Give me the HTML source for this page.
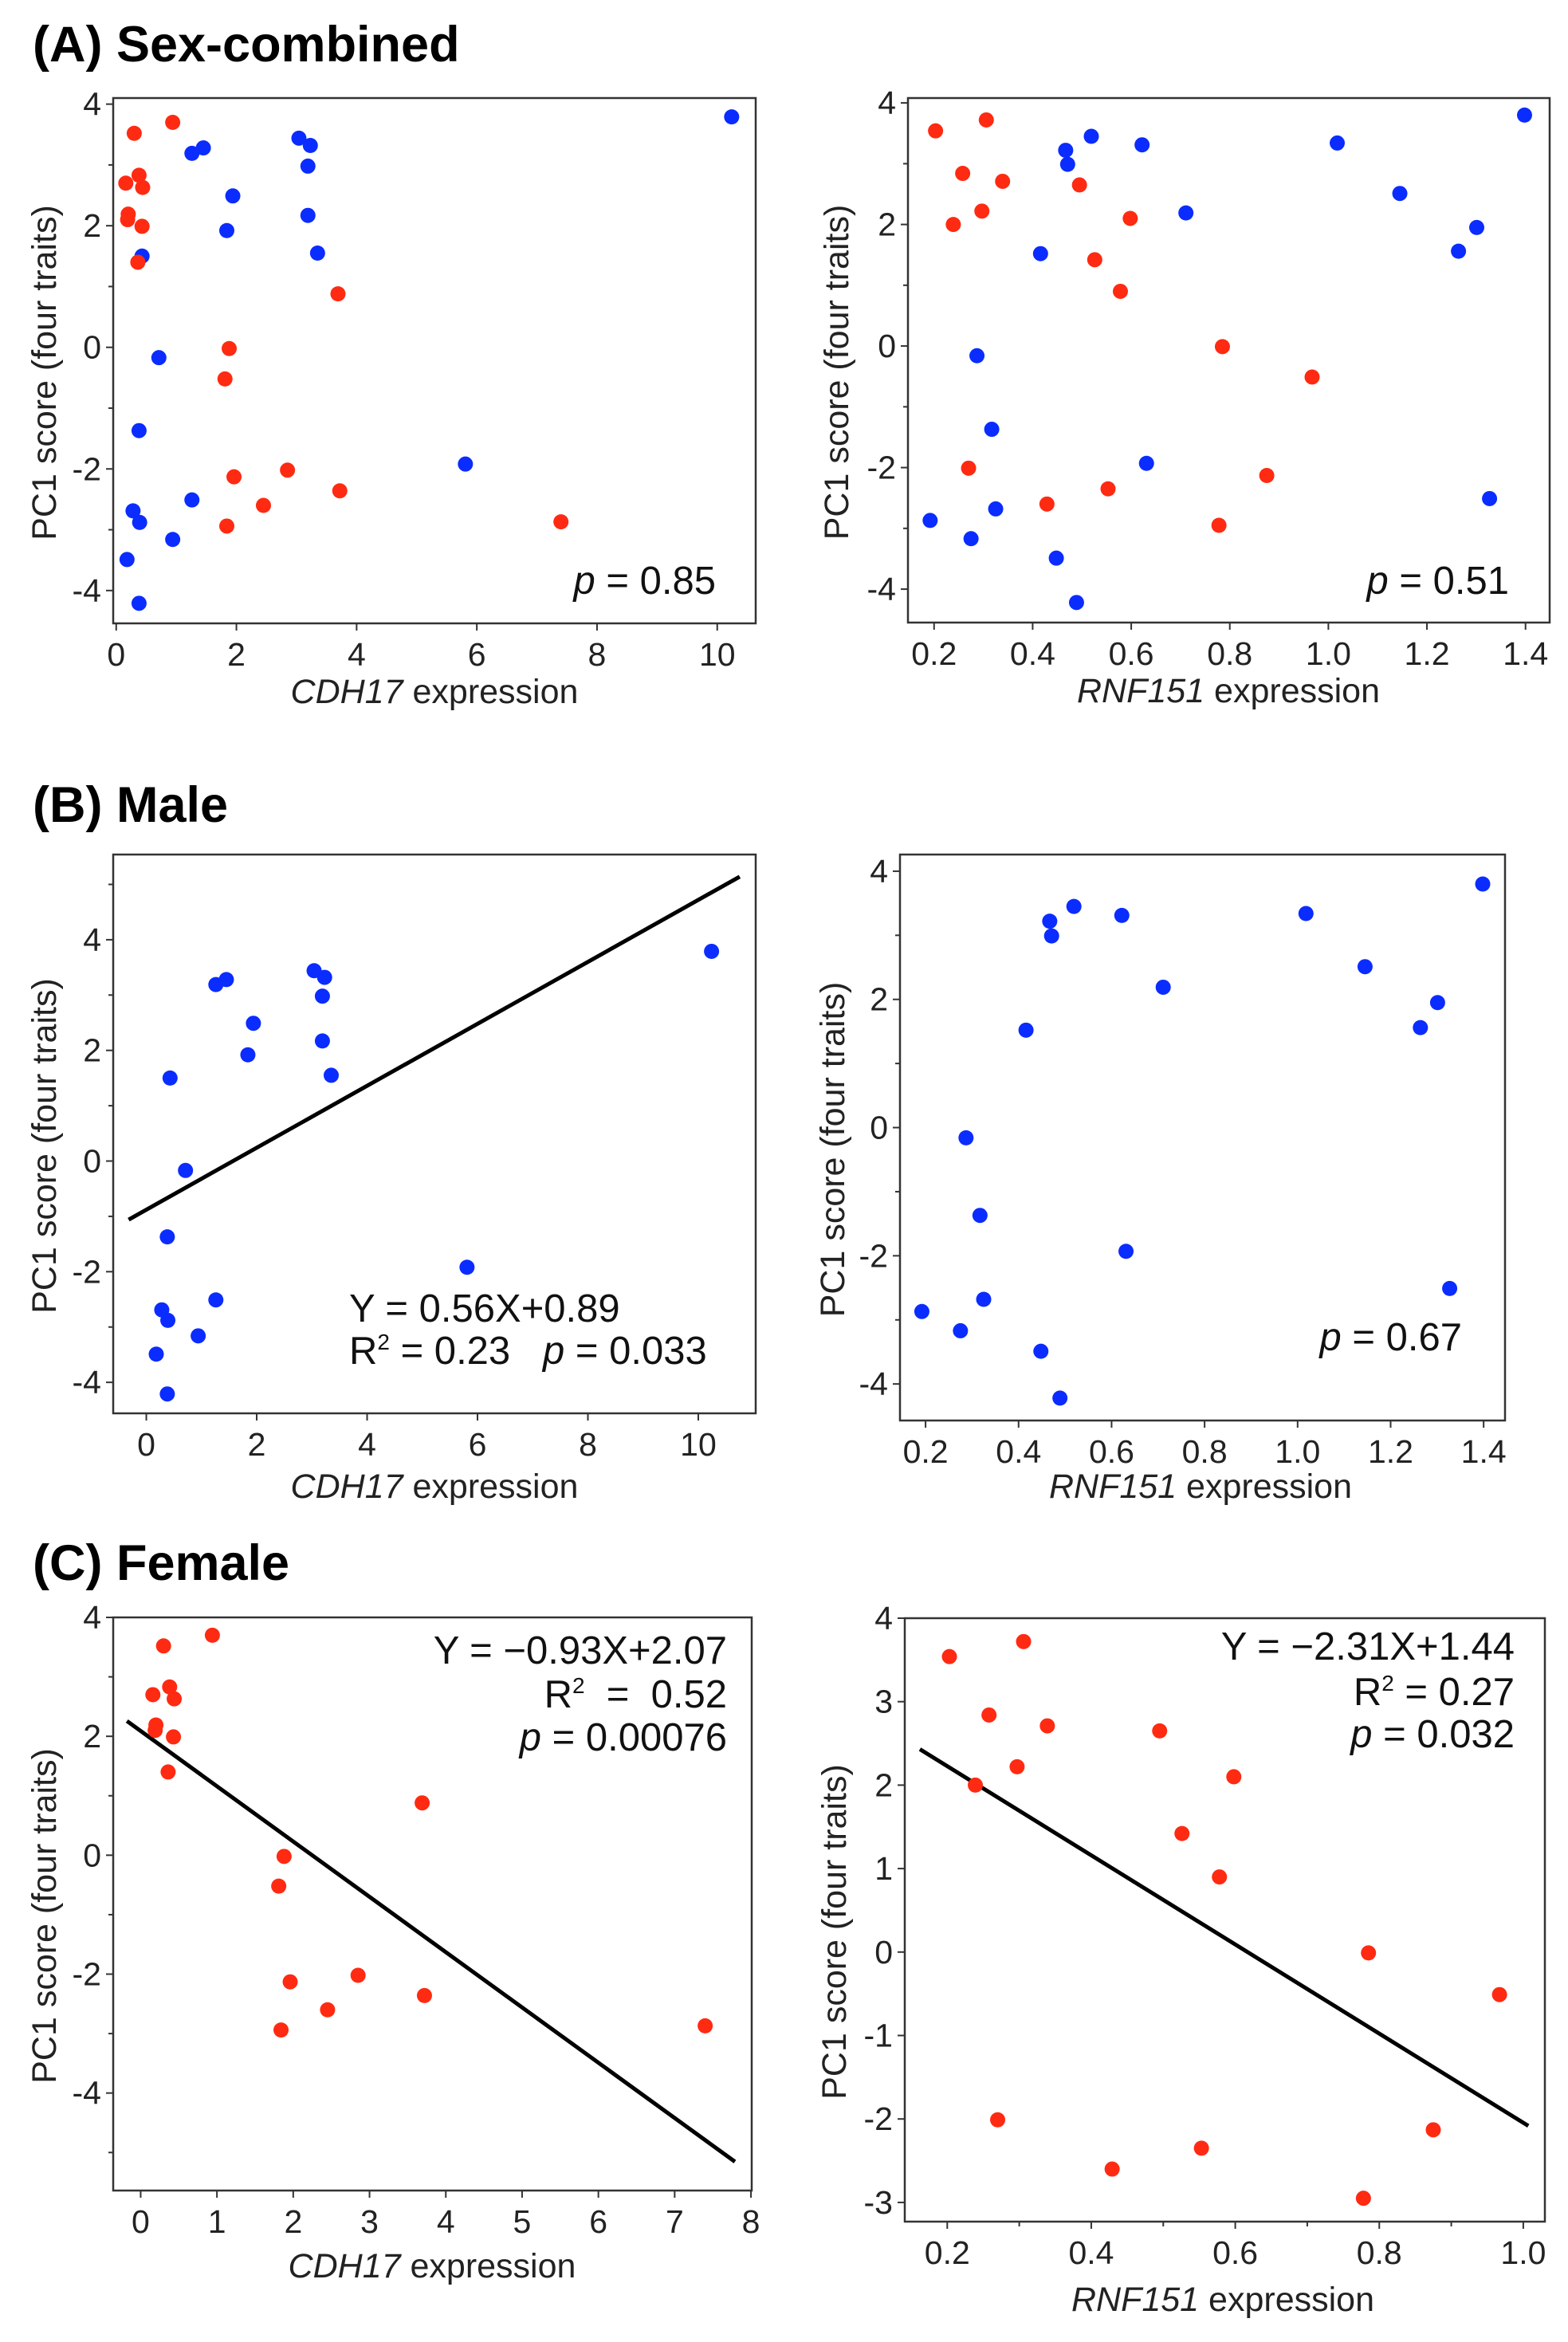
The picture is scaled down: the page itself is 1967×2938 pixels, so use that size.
<!DOCTYPE html>
<html><head><meta charset="utf-8"><style>
html,body{margin:0;padding:0;background:#fff;}
svg{display:block;font-family:"Liberation Sans",Arial,sans-serif;}
</style></head><body>
<svg id="fig" width="1967" height="2938" viewBox="0 0 1967 2938" xmlns="http://www.w3.org/2000/svg">
<rect width="1967" height="2938" fill="#fff"/>
<text x="41" y="77" font-size="63" font-weight="bold">(A) Sex-combined</text>
<text x="41" y="1031" font-size="63" font-weight="bold">(B) Male</text>
<text x="41" y="1982" font-size="63" font-weight="bold">(C) Female</text>
</svg>
<script>
// CDH17 expression vs PC1 score
const maleCdh = [10.24,3.04,3.23,1.26,1.45,3.19,1.94,3.19,1.84,0.43,3.35,0.71,0.38,5.81,1.26,0.28,0.39,0.94,0.18,0.38];
const malePc1Cdh = [3.79,3.44,3.32,3.19,3.28,2.98,2.49,2.17,1.92,1.50,1.55,-0.17,-1.37,-1.92,-2.51,-2.69,-2.88,-3.16,-3.49,-4.21];
const femaleCdh = [0.30,0.94,0.16,0.38,0.44,0.20,0.19,0.43,0.36,3.69,1.88,1.81,2.85,1.96,3.72,2.45,1.84,7.40];
const femalePc1Cdh = [3.52,3.70,2.70,2.83,2.63,2.19,2.10,1.99,1.40,0.88,-0.02,-0.52,-2.02,-2.13,-2.36,-2.60,-2.94,-2.87];
// RNF151 expression vs PC1 score
const maleRnf = [1.398,0.519,0.622,0.467,0.471,1.018,1.145,0.711,1.301,1.264,0.416,0.287,0.317,0.631,1.327,0.325,0.192,0.275,0.448,0.489];
const malePc1Rnf = [3.80,3.45,3.31,3.22,2.99,3.34,2.51,2.19,1.95,1.56,1.52,-0.16,-1.37,-1.93,-2.51,-2.68,-2.87,-3.17,-3.49,-4.22];
const femaleRnf = [0.203,0.306,0.258,0.339,0.239,0.297,0.495,0.598,0.526,0.578,0.785,0.967,0.270,0.429,0.553,0.875,0.778];
const femalePc1Rnf = [3.54,3.72,2.84,2.71,2.00,2.22,2.65,2.10,1.42,0.90,-0.01,-0.51,-2.01,-2.60,-2.35,-2.13,-2.95];
// Fit lines as drawn: [slope, intercept, xStart, xEnd]
const fitMaleCdh = [0.56,-0.88,-0.32,10.75];
const fitFemaleCdh = [-0.93,2.09,-0.18,7.79];
const fitFemaleRnf = [-5.34,3.295,0.162,1.007];
// Tick labels
const cdhTicksA = [0,2,4,6,8,10];
const cdhTicksC = [0,1,2,3,4,5,6,7,8];
const rnfTicksA = [0.2,0.4,0.6,0.8,1.0,1.2,1.4];
const rnfTicksC = [0.2,0.4,0.6,0.8,1.0];
const yTicksEven = [-4,-2,0,2,4];
const yTicksC = [-3,-2,-1,0,1,2,3,4];

const NS="http://www.w3.org/2000/svg";
const svg=document.getElementById('fig');
const BLUE="#0a2cff", RED="#ff2a12";
function mk(tag,attrs,parent){const e=document.createElementNS(NS,tag);for(const k in attrs)e.setAttribute(k,attrs[k]);(parent||svg).appendChild(e);return e;}

function plot(p){
  const g=mk('g',{});
  
  
  const sx=v=>p.L+(v-p.x0)/(p.x1-p.x0)*(p.R-p.L);
  const sy=v=>p.B-(v-p.y0)/(p.y1-p.y0)*(p.B-p.T);
  const fr=mk('rect',{x:p.L,y:p.T,width:p.R-p.L,height:p.B-p.T,fill:'none',stroke:'#333','stroke-width':2.5},g);
  
  
  p.xt.forEach(v=>{
    const x=sx(v);
    mk('line',{x1:x,y1:p.B,x2:x,y2:p.B+9,stroke:'#333','stroke-width':2},g);
    const t=mk('text',{x:x,y:p.B+53,'font-size':41,'text-anchor':'middle',fill:'#222'},g);
    
    
    t.textContent=p.xfmt?v.toFixed(1):String(v);
  });
  (p.xminor||[]).forEach(v=>{const x=sx(v);mk('line',{x1:x,y1:p.B,x2:x,y2:p.B+6,stroke:'#333','stroke-width':2},g);});
  p.yt.forEach(v=>{
    const y=sy(v);
    mk('line',{x1:p.L-9,y1:y,x2:p.L,y2:y,stroke:'#333','stroke-width':2},g);
    const t=mk('text',{x:p.L-15,y:y+14,'font-size':41,'text-anchor':'end',fill:'#222'},g);
    
    
    t.textContent=String(v);
  });
  (p.yminor||[]).forEach(v=>{const y=sy(v);mk('line',{x1:p.L-6,y1:y,x2:p.L,y2:y,stroke:'#333','stroke-width':2},g);});
  const yl=mk('text',{x:0,y:0,'font-size':43,'text-anchor':'middle',fill:'#222',transform:`translate(${p.ylx},${(p.T+p.B)/2+15}) rotate(-90)`},g);
  
  
  yl.textContent='PC1 score (four traits)';
  const xl=mk('text',{x:p.xlx,y:p.B+p.xly,'font-size':43,'text-anchor':'middle',fill:'#222'},g);
  
  
  const it=mk('tspan',{'font-style':'italic'},xl);it.textContent=p.gene;
  const rest=mk('tspan',{},xl);rest.textContent=' expression';
  if(p.fit){
    const f=p.fit;
    const ln=mk('line',{x1:sx(f[2]),y1:sy(f[0]*f[2]+f[1]),x2:sx(f[3]),y2:sy(f[0]*f[3]+f[1]),stroke:'#000','stroke-width':5},g);
    
    
  }
  p.series.forEach(s=>{
    s.x.forEach((xv,i)=>{
      const c=mk('circle',{cx:sx(xv),cy:sy(s.y[i]),r:9.5,fill:s.c},g);
      
      
    });
  });
  p.notes.forEach(n=>{
    const t=mk('text',{x:n.x,y:n.y,'font-size':49,'text-anchor':n.a||'end',fill:'#111'},g);
    
    
    t.innerHTML=n.h;
  });
}
plot({name:'plot-a-cdh17',L:142,R:948,T:123,B:782,x0:-0.05,x1:10.64,y0:-4.54,y1:4.1,xt:cdhTicksA,yt:yTicksEven,yminor:[-3,-1,1,3],
  ylx:70,xlx:545,xly:100,gene:'CDH17',
  series:[{x:maleCdh,y:malePc1Cdh,c:BLUE,n:'male-point'},{x:femaleCdh,y:femalePc1Cdh,c:RED,n:'female-point'}],
  notes:[{x:898,y:745,h:'<tspan font-style="italic">p</tspan> = 0.85'}]});
plot({name:'plot-a-rnf151',L:1139,R:1944,T:123,B:781,x0:0.147,x1:1.449,y0:-4.55,y1:4.08,xt:rnfTicksA,xfmt:1,yt:yTicksEven,yminor:[-3,-1,1,3],
  ylx:1064,xlx:1541,xly:100,gene:'RNF151',
  series:[{x:maleRnf,y:malePc1Rnf,c:BLUE,n:'male-point'},{x:femaleRnf,y:femalePc1Rnf,c:RED,n:'female-point'}],
  notes:[{x:1893,y:745,h:'<tspan font-style="italic">p</tspan> = 0.51'}]});
plot({name:'plot-b-cdh17',L:142,R:948,T:1072,B:1773,x0:-0.6,x1:11.04,y0:-4.56,y1:5.54,xt:cdhTicksA,yt:yTicksEven,yminor:[-3,-1,1,3,5],
  ylx:70,xlx:545,xly:106,gene:'CDH17',fit:fitMaleCdh,
  series:[{x:maleCdh,y:malePc1Cdh,c:BLUE,n:'male-point'}],
  notes:[{x:438,y:1658,a:'start',h:'Y = 0.56X+0.89'},{x:438,y:1711,a:'start',h:'R<tspan font-size="28" dy="-18">2</tspan><tspan dy="18"> = 0.23 &#160;&#160;</tspan><tspan font-style="italic">p</tspan> = 0.033'}]});
plot({name:'plot-b-rnf151',L:1129,R:1888,T:1072,B:1782,x0:0.145,x1:1.446,y0:-4.57,y1:4.26,xt:rnfTicksA,xfmt:1,yt:yTicksEven,yminor:[-3,-1,1,3],
  ylx:1059,xlx:1506,xly:97,gene:'RNF151',
  series:[{x:maleRnf,y:malePc1Rnf,c:BLUE,n:'male-point'}],
  notes:[{x:1834,y:1694,h:'<tspan font-style="italic">p</tspan> = 0.67'}]});
plot({name:'plot-c-cdh17',L:142,R:943,T:2029,B:2748,x0:-0.36,x1:8.01,y0:-5.64,y1:4.0,xt:cdhTicksC,yt:yTicksEven,yminor:[-5,-3,-1,1,3],
  ylx:70,xlx:542,xly:109,gene:'CDH17',fit:fitFemaleCdh,
  series:[{x:femaleCdh,y:femalePc1Cdh,c:RED,n:'female-point'}],
  notes:[{x:912,y:2087,h:'Y = &#8722;0.93X+2.07'},{x:912,y:2142,h:'R<tspan font-size="28" dy="-18">2</tspan><tspan dy="18">&#160; = &#160;0.52</tspan>'},{x:912,y:2196,h:'<tspan font-style="italic">p</tspan> = 0.00076'}]});
plot({name:'plot-c-rnf151',L:1135,R:1938,T:2030,B:2787,x0:0.141,x1:1.030,y0:-3.23,y1:4.0,xt:rnfTicksC,xfmt:1,xminor:[0.3,0.5,0.7,0.9],yt:yTicksC,
  ylx:1061,xlx:1534,xly:112,gene:'RNF151',fit:fitFemaleRnf,
  series:[{x:femaleRnf,y:femalePc1Rnf,c:RED,n:'female-point'}],
  notes:[{x:1900,y:2082,h:'Y = &#8722;2.31X+1.44'},{x:1900,y:2139,h:'R<tspan font-size="28" dy="-18">2</tspan><tspan dy="18"> = 0.27</tspan>'},{x:1900,y:2192,h:'<tspan font-style="italic">p</tspan> = 0.032'}]});
</script>
</body></html>
